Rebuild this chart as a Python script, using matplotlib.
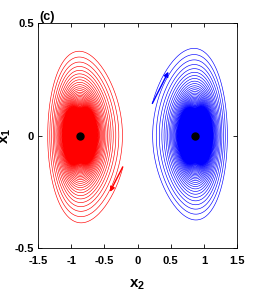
import matplotlib
matplotlib.use('Agg')
import matplotlib.pyplot as plt

plt.rcParams['font.family'] = ['Liberation Sans', 'DejaVu Sans']
plt.rcParams['mathtext.default'] = 'regular'

# equilibria (x2, x1) and colours of the two basins
EQ_X2 = [-0.866, 0.866]
EQ_X1 = [0.0, 0.0]
COLORS = ['red', 'blue']
SIGN = [-1, 1]            # red spiral is the point mirror of the blue one

# start of each trajectory (x2, x1)
START_X2 = [-0.223, 0.223]
START_X1 = [-0.143, 0.143]

# direction arrows (tail -> head)
ARROW_TAIL = [(-0.223, -0.139), (0.223, 0.143)]
ARROW_HEAD = [(-0.415, -0.250), (0.465, 0.284)]

XTICKS = [-1.5, -1, -0.5, 0, 0.5, 1, 1.5]
XTICKLABELS = ['-1.5', '-1', '-0.5', '0', '0.5', '1', '1.5']
YTICKS = [-0.5, 0, 0.5]
YTICKLABELS = ['-0.5', '0', '0.5']

# local model around each well: u'' = -w^2 u - 3 g u^2 - mu v|v|
OMEGA = 1.0
GAMMA = 0.254
MU = 0.05
VSCALE = 0.70
T_END = 3000.0
DT = 0.05


def rhs(u, v):
	return v, -OMEGA**2 * u - 3 * GAMMA * u * u - MU * v * abs(v)


def trajectory(u, v):
	us, vs = [u], [v]
	n = int(T_END / DT)
	h = DT
	for i in range(n):
		k1u, k1v = rhs(u, v)
		k2u, k2v = rhs(u + h/2*k1u, v + h/2*k1v)
		k3u, k3v = rhs(u + h/2*k2u, v + h/2*k2v)
		k4u, k4v = rhs(u + h*k3u, v + h*k3v)
		u += h/6*(k1u + 2*k2u + 2*k3u + k4u)
		v += h/6*(k1v + 2*k2v + 2*k3v + k4v)
		us.append(u)
		vs.append(v)
	return us, vs


fig = plt.figure(figsize=(2.62, 3.0), dpi=100)
ax = fig.add_axes([0.145, 0.173, 0.760, 0.750])

for k in range(2):
	s = SIGN[k]
	u0 = (START_X2[k] - EQ_X2[k]) / s
	v0 = START_X1[k] / (s * VSCALE)
	us, vs = trajectory(u0, v0)
	x2 = [EQ_X2[k] + s*u for u in us]
	x1 = [EQ_X1[k] + s*VSCALE*v for v in vs]
	ax.plot(x2, x1, color=COLORS[k], lw=0.45)
	ax.annotate('', xy=ARROW_HEAD[k], xytext=ARROW_TAIL[k],
				arrowprops=dict(arrowstyle='-|>', color=COLORS[k], lw=1.0,
								mutation_scale=7, shrinkA=0, shrinkB=0))
	ax.plot(EQ_X2[k], EQ_X1[k], 'o', color='black', markersize=5)

ax.set_xlim(-1.5, 1.5)
ax.set_ylim(-0.5, 0.5)
ax.set_xticks(XTICKS)
ax.set_xticklabels(XTICKLABELS, fontweight='bold')
ax.set_yticks(YTICKS)
ax.set_yticklabels(YTICKLABELS, fontweight='bold')
ax.tick_params(direction='in', top=True, right=True, length=3, width=0.6,
			   labelsize=8)
ax.tick_params(axis='x', pad=6)
ax.tick_params(axis='y', pad=3)
for sp in ax.spines.values():
	sp.set_linewidth(0.6)

ax.set_xlabel('x$_2$', fontsize=11, fontweight='bold')
ax.xaxis.set_label_coords(0.5, -0.13)
ax.set_ylabel('x$_1$', fontsize=11, fontweight='bold')
ax.yaxis.set_label_coords(-0.125, 0.5)
ax.set_title('(c)', fontsize=9, fontweight='bold', loc='left', x=0.005, pad=2)

fig.savefig('out.png', dpi=100)
